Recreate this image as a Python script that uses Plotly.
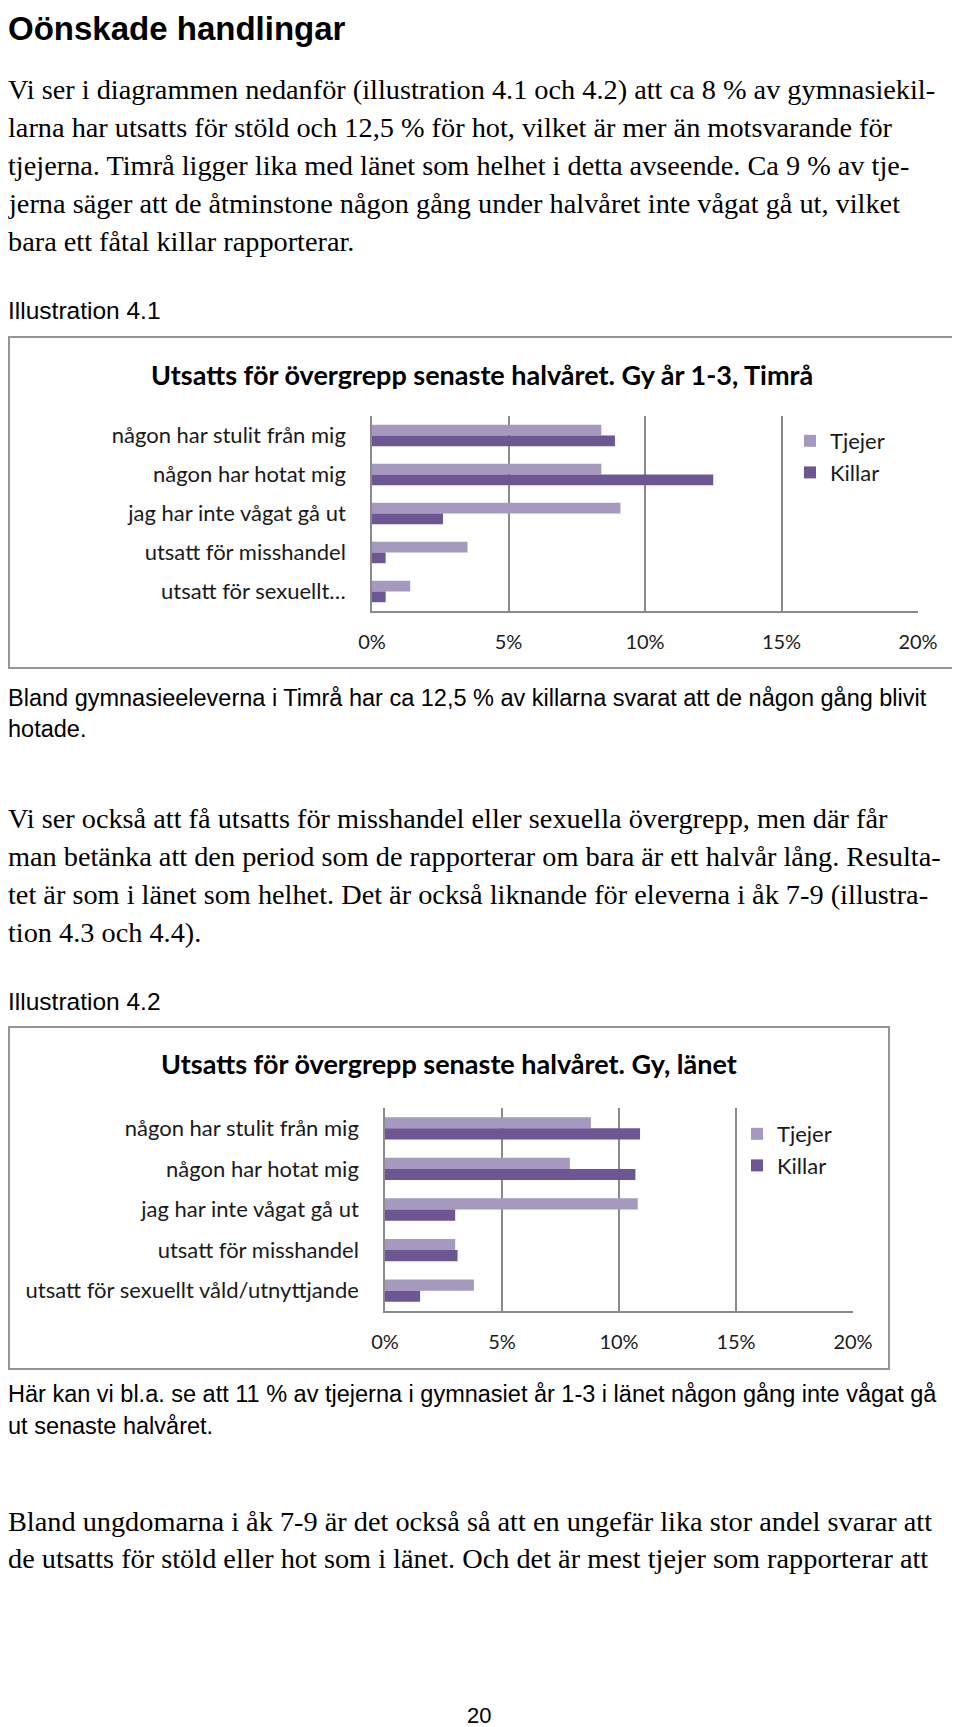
import plotly.graph_objects as go

# the page puts the figure at an 8 px body margin, so the figure is 8 px
# smaller on each axis and positions below are given in page pixels
PAGE_W, PAGE_H = 960, 1727
OFF = 8
W, H = PAGE_W - OFF, PAGE_H - OFF

# ── data ──────────────────────────────────────────────────────────────────────
CATEGORIES = [
    "någon har stulit från mig",
    "någon har hotat mig",
    "jag har inte vågat gå ut",
    "utsatt för misshandel",
    "utsatt för sexuellt våld/utnyttjande",
]
LABELS_TIMRA = [
    "någon har stulit från mig",
    "någon har hotat mig",
    "jag har inte vågat gå ut",
    "utsatt för misshandel",
    "utsatt för sexuellt…",
]
SERIES = ["Tjejer", "Killar"]
TIMRA_TJEJER = [8.4, 8.4, 9.1, 3.5, 1.4]
TIMRA_KILLAR = [8.9, 12.5, 2.6, 0.5, 0.5]
LANET_TJEJER = [8.8, 7.9, 10.8, 3.0, 3.8]
LANET_KILLAR = [10.9, 10.7, 3.0, 3.1, 1.5]
X_TICKS = [0, 5, 10, 15, 20]

TITLE_1 = "Utsatts för övergrepp senaste halvåret. Gy år 1-3, Timrå"
TITLE_2 = "Utsatts för övergrepp senaste halvåret. Gy, länet"

HEADING = "Oönskade handlingar"
PARA_1 = [
    "Vi ser i diagrammen nedanför (illustration 4.1 och 4.2) att ca 8 % av gymnasiekil-",
    "larna har utsatts för stöld och 12,5 % för hot, vilket är mer än motsvarande för",
    "tjejerna. Timrå ligger lika med länet som helhet i detta avseende. Ca 9 % av tje-",
    "jerna säger att de åtminstone någon gång under halvåret inte vågat gå ut, vilket",
    "bara ett fåtal killar rapporterar.",
]
CAPTION_1 = [
    "Bland gymnasieeleverna i Timrå har ca 12,5 % av killarna svarat att de någon gång blivit",
    "hotade.",
]
PARA_2 = [
    "Vi ser också att få utsatts för misshandel eller sexuella övergrepp, men där får",
    "man betänka att den period som de rapporterar om bara är ett halvår lång. Resulta-",
    "tet är som i länet som helhet. Det är också liknande för eleverna i åk 7-9 (illustra-",
    "tion 4.3 och 4.4).",
]
CAPTION_2 = [
    "Här kan vi bl.a. se att 11 % av tjejerna i gymnasiet år 1-3 i länet någon gång inte vågat gå",
    "ut senaste halvåret.",
]
PARA_3 = [
    "Bland ungdomarna i åk 7-9 är det också så att en ungefär lika stor andel svarar att",
    "de utsatts för stöld eller hot som i länet. Och det är mest tjejer som rapporterar att",
]

# ── style ─────────────────────────────────────────────────────────────────────
LIGHT = "#A699C0"
DARK = "#6C5793"
GRID = "#8A8A8A"
FRAME = "#959595"
INK = "#1a1a1a"
CHART_FONT = "Lato, Open Sans, sans-serif"
SERIF = "Liberation Serif, Times New Roman, serif"
SANS = "Liberation Sans, Arial, sans-serif"


def px(x):
    return (x - OFF) / W


def py(y):
    return 1 - (y - OFF) / H


fig = go.Figure()

charts = [
    dict(xa="x", ya="y", legend="legend", tj=TIMRA_TJEJER, ki=TIMRA_KILLAR,
         labels=LABELS_TIMRA, xdom=[px(372), px(918)], ydom=[py(611), py(416)]),
    dict(xa="x2", ya="y2", legend="legend2", tj=LANET_TJEJER, ki=LANET_KILLAR,
         labels=CATEGORIES, xdom=[px(385), px(853)], ydom=[py(1311), py(1108)]),
]

for i, c in enumerate(charts):
    for name, vals, color in [(SERIES[0], c["tj"], LIGHT), (SERIES[1], c["ki"], DARK)]:
        fig.add_trace(go.Bar(
            x=vals, y=CATEGORIES, orientation="h", name=name,
            marker=dict(color=color, line=dict(width=0)),
            xaxis=c["xa"], yaxis=c["ya"], legend=c["legend"],
            legendgroup=f"{c['legend']}-{name}",
        ))
    sfx = "" if i == 0 else "2"
    fig.update_layout(**{
        f"xaxis{sfx}": dict(
            domain=c["xdom"], anchor=c["ya"], range=[0, 20], automargin=False,
            tickvals=X_TICKS, ticktext=[f"{t}%" for t in X_TICKS],
            showgrid=True, gridcolor=GRID, gridwidth=1.5, zeroline=False,
            showline=True, linecolor=GRID, linewidth=1.5,
            ticks="", ticklabelstandoff=12,
            tickfont=dict(family=CHART_FONT, size=20, color=INK),
            fixedrange=True,
        ),
        f"yaxis{sfx}": dict(
            domain=c["ydom"], anchor=c["xa"], autorange="reversed", automargin=False,
            categoryorder="array", categoryarray=CATEGORIES,
            tickvals=CATEGORIES, ticktext=c["labels"],
            showgrid=False, zeroline=False,
            showline=True, linecolor=GRID, linewidth=1.5,
            ticks="", ticklabelstandoff=20,
            tickfont=dict(family=CHART_FONT, size=22, color=INK),
            fixedrange=True,
        ),
    })

legend_style = dict(
    xanchor="left", yanchor="top", bgcolor="rgba(0,0,0,0)",
    font=dict(family=CHART_FONT, size=22, color=INK),
    itemwidth=30, tracegroupgap=1, traceorder="normal",
)

fig.update_layout(
    width=W, height=H,
    margin=dict(l=0, r=0, t=0, b=0, autoexpand=False),
    paper_bgcolor="white", plot_bgcolor="white",
    barmode="group", bargap=0.45, bargroupgap=0,
    legend=dict(x=px(790), y=py(420), **legend_style),
    legend2=dict(x=px(737), y=py(1113), **legend_style),
)

# chart frames
for x0, y0, x1, y1 in [(9, 337, 955, 668), (9, 1027, 889, 1369)]:
    fig.add_shape(type="rect", xref="paper", yref="paper",
                  x0=px(x0), x1=px(x1), y0=py(y1), y1=py(y0),
                  line=dict(color=FRAME, width=2), fillcolor="rgba(0,0,0,0)", layer="below")

annotations = []


def text(s, x, y, family, size, bold=False, anchor="left", vanchor="middle"):
    annotations.append(dict(
        text=f"<b>{s}</b>" if bold else s, x=px(x), y=py(y), xref="paper", yref="paper",
        xanchor=anchor, yanchor=vanchor, showarrow=False,
        font=dict(family=family, size=size, color="black"),
    ))


text(TITLE_1, 482, 375, CHART_FONT, 27, bold=True, anchor="center")
text(TITLE_2, 449, 1063, CHART_FONT, 27, bold=True, anchor="center")

# heading sits right at the top edge of the page
text(HEADING, 6, OFF, SANS, 33, bold=True, vanchor="top")
for k, line in enumerate(PARA_1):
    text(line, 6, 90 + k * 37.8, SERIF, 28.3)
text("Illustration 4.1", 6, 311, SANS, 24.5)
for k, line in enumerate(CAPTION_1):
    text(line, 6, 698 + k * 31, SANS, 23.5)
for k, line in enumerate(PARA_2):
    text(line, 6, 819 + k * 37.8, SERIF, 28.3)
text("Illustration 4.2", 6, 1001, SANS, 24.5)
for k, line in enumerate(CAPTION_2):
    text(line, 6, 1394 + k * 32, SANS, 23.5)
for k, line in enumerate(PARA_3):
    text(line, 6, 1521 + k * 37.5, SERIF, 28.3)
text("20", 479, 1715, SANS, 22, anchor="center")

fig.update_layout(annotations=annotations)

fig.write_html("out.html")
